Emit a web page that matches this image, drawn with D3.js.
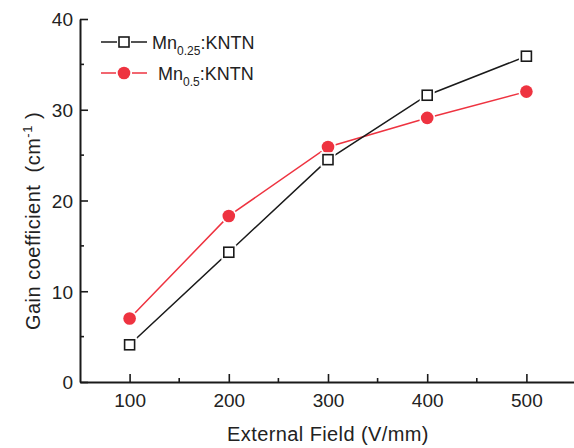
<!DOCTYPE html>
<html>
<head>
<meta charset="utf-8">
<script src="https://cdn.jsdelivr.net/npm/d3@7"></script>
<style>
  body { margin: 0; background: #fff; }
  svg text { font-family: "Liberation Sans", Arial, sans-serif; fill: #222; white-space: pre; }
</style>
</head>
<body>
<svg id="chart" width="574" height="448"></svg>
<script>
// values
var fields = [100, 200, 300, 400, 500];
var gainMn025 = [4.1, 14.3, 24.5, 31.6, 35.9];
var gainMn05 = [7.0, 18.3, 25.9, 29.1, 32.0];
var xTicks = [100, 200, 300, 400, 500];
var yTicks = [0, 10, 20, 30, 40];

var svg = d3.select("#chart");
var ink = "#1a1a1a", red = "#ee3340";

var x = d3.scaleLinear().domain([50, 550]).range([80, 576]);
var y = d3.scaleLinear().domain([0, 40]).range([382, 19]);

// axes with inward ticks
var xAxis = d3.axisBottom(x).tickValues(xTicks).tickSize(-8).tickSizeOuter(0).tickPadding(12);
var gx = svg.append("g").attr("transform", "translate(0,382)").call(xAxis);
gx.append("g").selectAll("line")
  .data([150, 250, 350, 450])
  .join("line")
  .attr("x1", d => x(d)).attr("x2", d => x(d))
  .attr("y1", 0).attr("y2", -4);

var yAxis = d3.axisLeft(y).tickValues(yTicks).tickSize(-8).tickSizeOuter(0).tickPadding(7);
var gy = svg.append("g").attr("transform", "translate(80,0)").call(yAxis);
gy.append("g").selectAll("line")
  .data([5, 15, 25, 35])
  .join("line")
  .attr("x1", 0).attr("x2", 4)
  .attr("y1", d => y(d)).attr("y2", d => y(d));

svg.selectAll(".domain").attr("stroke", ink).attr("stroke-width", 2);
svg.selectAll(".tick line, g g line").attr("stroke", ink).attr("stroke-width", 1.6);
svg.selectAll(".tick text").attr("font-size", 19).attr("fill", ink)
  .attr("font-family", '"Liberation Sans", Arial, sans-serif');
gy.selectAll(".tick text").attr("dy", "0.36em");

// axis titles
svg.append("text").attr("x", 328).attr("y", 441).attr("text-anchor", "middle")
  .attr("font-size", 20).attr("letter-spacing", 0.4).text("External Field (V/mm)");

var yt = svg.append("text").attr("transform", "translate(40,221) rotate(-90)")
  .attr("text-anchor", "middle").attr("font-size", 20).attr("letter-spacing", 0.5);
yt.append("tspan").text("Gain coefficient  (cm");
yt.append("tspan").attr("font-size", 13).attr("dy", -8).text("-1");
yt.append("tspan").attr("dy", 8).text(" )");

var line = d3.line().x((d, i) => x(fields[i])).y(d => y(d));

svg.append("path").datum(gainMn05).attr("d", line)
  .attr("fill", "none").attr("stroke", red).attr("stroke-width", 1.5);
svg.append("path").datum(gainMn025).attr("d", line)
  .attr("fill", "none").attr("stroke", ink).attr("stroke-width", 1.5);

// markers with a small white halo so lines stop short of them
svg.append("g").selectAll("circle.halo")
  .data(gainMn05).join("circle")
  .attr("cx", (d, i) => x(fields[i])).attr("cy", d => y(d)).attr("r", 8).attr("fill", "#fff");
svg.append("g").selectAll("circle.pt")
  .data(gainMn05).join("circle")
  .attr("cx", (d, i) => x(fields[i])).attr("cy", d => y(d)).attr("r", 6.3).attr("fill", red);

svg.append("g").selectAll("rect.halo")
  .data(gainMn025).join("rect")
  .attr("x", (d, i) => x(fields[i]) - 7.5).attr("y", d => y(d) - 7.5)
  .attr("width", 15).attr("height", 15).attr("fill", "#fff");
svg.append("g").selectAll("rect.pt")
  .data(gainMn025).join("rect")
  .attr("x", (d, i) => x(fields[i]) - 5).attr("y", d => y(d) - 5)
  .attr("width", 10).attr("height", 10)
  .attr("fill", "#fff").attr("stroke", ink).attr("stroke-width", 1.6);

// legend
var lg = svg.append("g");
lg.append("line").attr("x1", 101).attr("x2", 117).attr("y1", 42).attr("y2", 42).attr("stroke", ink).attr("stroke-width", 1.5);
lg.append("line").attr("x1", 131).attr("x2", 147).attr("y1", 42).attr("y2", 42).attr("stroke", ink).attr("stroke-width", 1.5);
lg.append("rect").attr("x", 119).attr("y", 37).attr("width", 10).attr("height", 10)
  .attr("fill", "#fff").attr("stroke", ink).attr("stroke-width", 1.6);
lg.append("line").attr("x1", 101).attr("x2", 116).attr("y1", 73).attr("y2", 73).attr("stroke", red).attr("stroke-width", 1.5);
lg.append("line").attr("x1", 132).attr("x2", 147).attr("y1", 73).attr("y2", 73).attr("stroke", red).attr("stroke-width", 1.5);
lg.append("circle").attr("cx", 124).attr("cy", 73).attr("r", 6.3).attr("fill", red);

var t1 = lg.append("text").attr("x", 152).attr("y", 49).attr("font-size", 18);
t1.append("tspan").text("Mn");
t1.append("tspan").attr("font-size", 12).attr("dy", 6).text("0.25");
t1.append("tspan").attr("dy", -6).text(":KNTN");

var t2 = lg.append("text").attr("x", 158).attr("y", 80).attr("font-size", 18);
t2.append("tspan").text("Mn");
t2.append("tspan").attr("font-size", 12).attr("dy", 6).text("0.5");
t2.append("tspan").attr("dy", -6).text(":KNTN");
</script>
</body>
</html>
